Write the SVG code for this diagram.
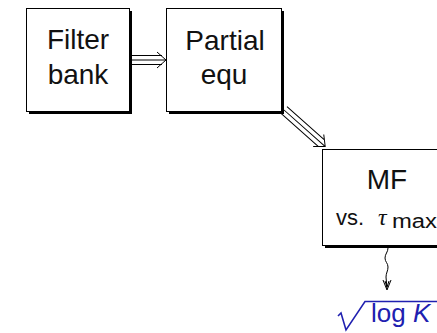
<svg xmlns="http://www.w3.org/2000/svg" width="437" height="333" viewBox="0 0 437 333">
<style>
.shadow{fill:#000}
.box{fill:#fff;stroke:#000;stroke-width:1}
.lbl{font-family:"Liberation Sans",Arial,sans-serif;fill:#111;text-anchor:middle}
.arr{fill:none;stroke:#000;stroke-width:1}
.blue{fill:#2020b0;font-family:"Liberation Sans",Arial,sans-serif}
</style>
<rect width="437" height="333" fill="#fff"/>
<g id="filter-bank">
<rect class="shadow" x="29" y="11" width="103" height="103"/>
<rect class="box" x="26.5" y="8.5" width="103" height="103"/>
<text class="lbl" x="78" y="49" font-size="28">Filter</text>
<text class="lbl" x="78" y="84" font-size="28">bank</text>
</g>
<g id="partial-equ">
<rect class="shadow" x="169" y="11" width="115" height="103"/>
<rect class="box" x="166.5" y="8.5" width="115" height="103"/>
<text class="lbl" x="225" y="50" font-size="28">Partial</text>
<text class="lbl" x="224" y="84" font-size="28">equ</text>
</g>
<g id="mf">
<rect class="shadow" x="325" y="152" width="130" height="96"/>
<rect class="box" x="322.5" y="149.5" width="130" height="96"/>
<text class="lbl" x="387" y="189" font-size="28">MF</text>
<text font-family="'Liberation Sans',Arial,sans-serif" font-size="22" fill="#111" y="225"><tspan x="336">vs.</tspan><tspan x="378" font-family="'Liberation Serif',serif" font-style="italic" font-size="24">τ</tspan><tspan x="392" y="228" font-size="20" textLength="45" lengthAdjust="spacingAndGlyphs">max</tspan></text>
</g>
<g id="result">
<path d="M338,316 L341,313 L346,330 L365,301.5 L437,301.5" fill="none" stroke="#2020b0" stroke-width="1.6"/>
<text class="blue" x="371" y="322" font-size="26">log <tspan font-style="italic">K</tspan></text>
</g>
<g id="connectors">
<g transform="translate(132,60)">
<path class="arr" d="M0,-4.5 H30 M0,0 H33 M0,4.5 H30 M25,-8 L34,0 L25,8"/>
</g>
<g transform="translate(284,110) rotate(41.5)">
<path class="arr" d="M0,-4.5 H50 M0,0 H54 M0,4.5 H50 M46,-8 L55,0 L46,8"/>
</g>
<path class="arr" d="M388,248 c0,4 -3,6 -3,10 c0,4 3,5 3,9 c0,4 -2,6 -2,10 L387,289"/>
<path class="arr" d="M383,280 L387,290 L391,280 M385,281 L387,287 L389,281"/>
</g>
</svg>
